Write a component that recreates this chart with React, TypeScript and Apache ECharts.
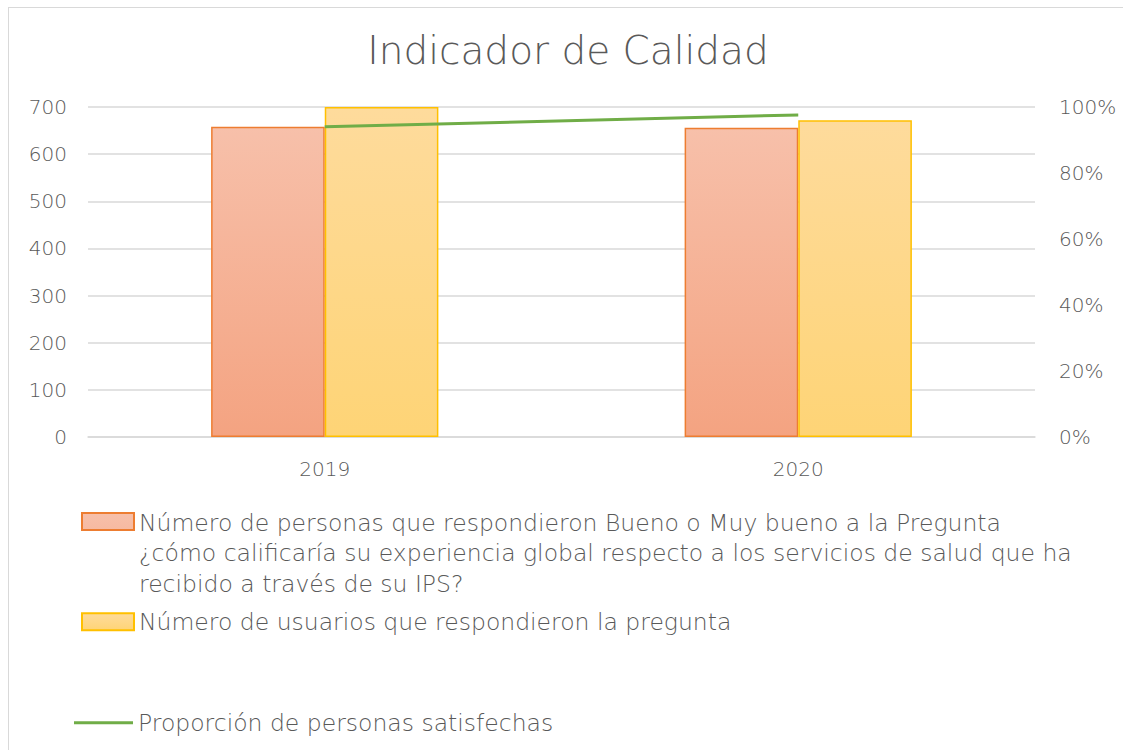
import React, { useEffect, useRef } from "react";
import * as echarts from "echarts";

const categories = ["2019", "2020"];
const satisfiedCounts = [658, 656];
const respondentCounts = [700, 672];
const proportion = [0.94, 0.976];
const leftTicks = [0, 700, 100];
const rightTicks = [0, 1, 0.2];

const nameA =
  "Número de personas que respondieron Bueno o Muy bueno a la Pregunta ¿cómo calificaría su experiencia global respecto a los servicios de salud que ha recibido a través de su IPS?";
const nameA_lines = [
  "Número de personas que respondieron Bueno o Muy bueno a la Pregunta",
  "¿cómo calificaría su experiencia global respecto a los servicios de salud que ha",
  "recibido a través de su IPS?",
];
const nameB = "Número de usuarios que respondieron la pregunta";
const nameC = "Proporción de personas satisfechas";

const FONT = "DejaVu Sans";
const TXT = "#595959";

export default function App() {
  const ref = useRef<HTMLDivElement>(null);
  useEffect(() => {
    if (!ref.current) return;
    const chart = echarts.init(ref.current, undefined, { renderer: "svg" });
    const orangeGrad = new echarts.graphic.LinearGradient(0, 0, 0, 1, [
      { offset: 0, color: "#f7c0aa" },
      { offset: 1, color: "#f4a381" },
    ]);
    const yellowGrad = new echarts.graphic.LinearGradient(0, 0, 0, 1, [
      { offset: 0, color: "#fedb9c" },
      { offset: 1, color: "#fed476" },
    ]);
    const legendText = {
      color: TXT,
      fontSize: 23.5,
      fontFamily: FONT,
      fontWeight: 300,
      lineHeight: 30.5,
    };
    chart.setOption({
      animation: false,
      textStyle: { fontFamily: FONT },
      title: {
        text: "Indicador de Calidad",
        left: "center",
        top: 23,
        padding: 0,
        textStyle: { color: TXT, fontSize: 39, fontWeight: 300, fontFamily: FONT },
      },
      legend: [
        {
          data: [nameA],
          left: 72,
          top: 499.25,
          padding: 0,
          itemWidth: 52,
          itemHeight: 80,
          icon: "path://M0 0H52V17H0Z M0 80",
          formatter: () => nameA_lines.join("\n"),
          textStyle: legendText,
        },
        {
          data: [nameB],
          left: 72,
          top: 598.5,
          padding: 0,
          itemWidth: 52,
          itemHeight: 17,
          icon: "rect",
          textStyle: legendText,
        },
        {
          data: [nameC],
          left: 65,
          top: 699.5,
          padding: 0,
          itemWidth: 59,
          itemHeight: 3,
          icon: "rect",
          itemStyle: { color: "#70ad47", borderWidth: 0 },
          textStyle: legendText,
        },
      ],
      grid: { left: 79, top: 99, width: 947, height: 330, containLabel: false },
      xAxis: {
        type: "category",
        data: categories,
        axisLine: { lineStyle: { color: "#d9d9d9", width: 1.5 } },
        axisTick: { show: false },
        axisLabel: { color: TXT, fontSize: 20, fontWeight: 300, margin: 22, fontFamily: FONT },
      },
      yAxis: [
        {
          type: "value",
          min: leftTicks[0],
          max: leftTicks[1],
          interval: leftTicks[2],
          axisLine: { show: false },
          axisTick: { show: false },
          splitLine: { lineStyle: { color: "#d9d9d9", width: 1.5 } },
          axisLabel: { color: TXT, fontSize: 20, fontWeight: 300, margin: 21, fontFamily: FONT },
        },
        {
          type: "value",
          min: rightTicks[0],
          max: rightTicks[1],
          interval: rightTicks[2],
          axisLine: { show: false },
          axisTick: { show: false },
          splitLine: { show: false },
          axisLabel: {
            color: TXT,
            fontSize: 20,
            fontWeight: 300,
            margin: 24,
            fontFamily: FONT,
            formatter: (v: number) => Math.round(v * 100) + "%",
          },
        },
      ],
      series: [
        {
          name: nameA,
          type: "bar",
          data: satisfiedCounts,
          barGap: "0%",
          barCategoryGap: "52%",
          itemStyle: { color: orangeGrad, borderColor: "#ed7d31", borderWidth: 1.5 },
        },
        {
          name: nameB,
          type: "bar",
          data: respondentCounts,
          barGap: "0%",
          barCategoryGap: "52%",
          itemStyle: { color: yellowGrad, borderColor: "#ffc000", borderWidth: 1.5 },
        },
        {
          name: nameC,
          type: "line",
          yAxisIndex: 1,
          data: proportion,
          symbol: "none",
          lineStyle: { color: "#70ad47", width: 3 },
          itemStyle: { color: "#70ad47" },
        },
      ],
    });
    return () => chart.dispose();
  }, []);
  return (
    <div style={{ position: "fixed", left: 0, top: 0, right: 0, bottom: 0, overflow: "hidden", background: "#fff" }}>
      <div
        ref={ref}
        style={{
          position: "absolute",
          left: 8,
          top: 7,
          width: 1118,
          height: 760,
          border: "1px solid #d9d9d9",
          background: "#fff",
        }}
      />
    </div>
  );
}
